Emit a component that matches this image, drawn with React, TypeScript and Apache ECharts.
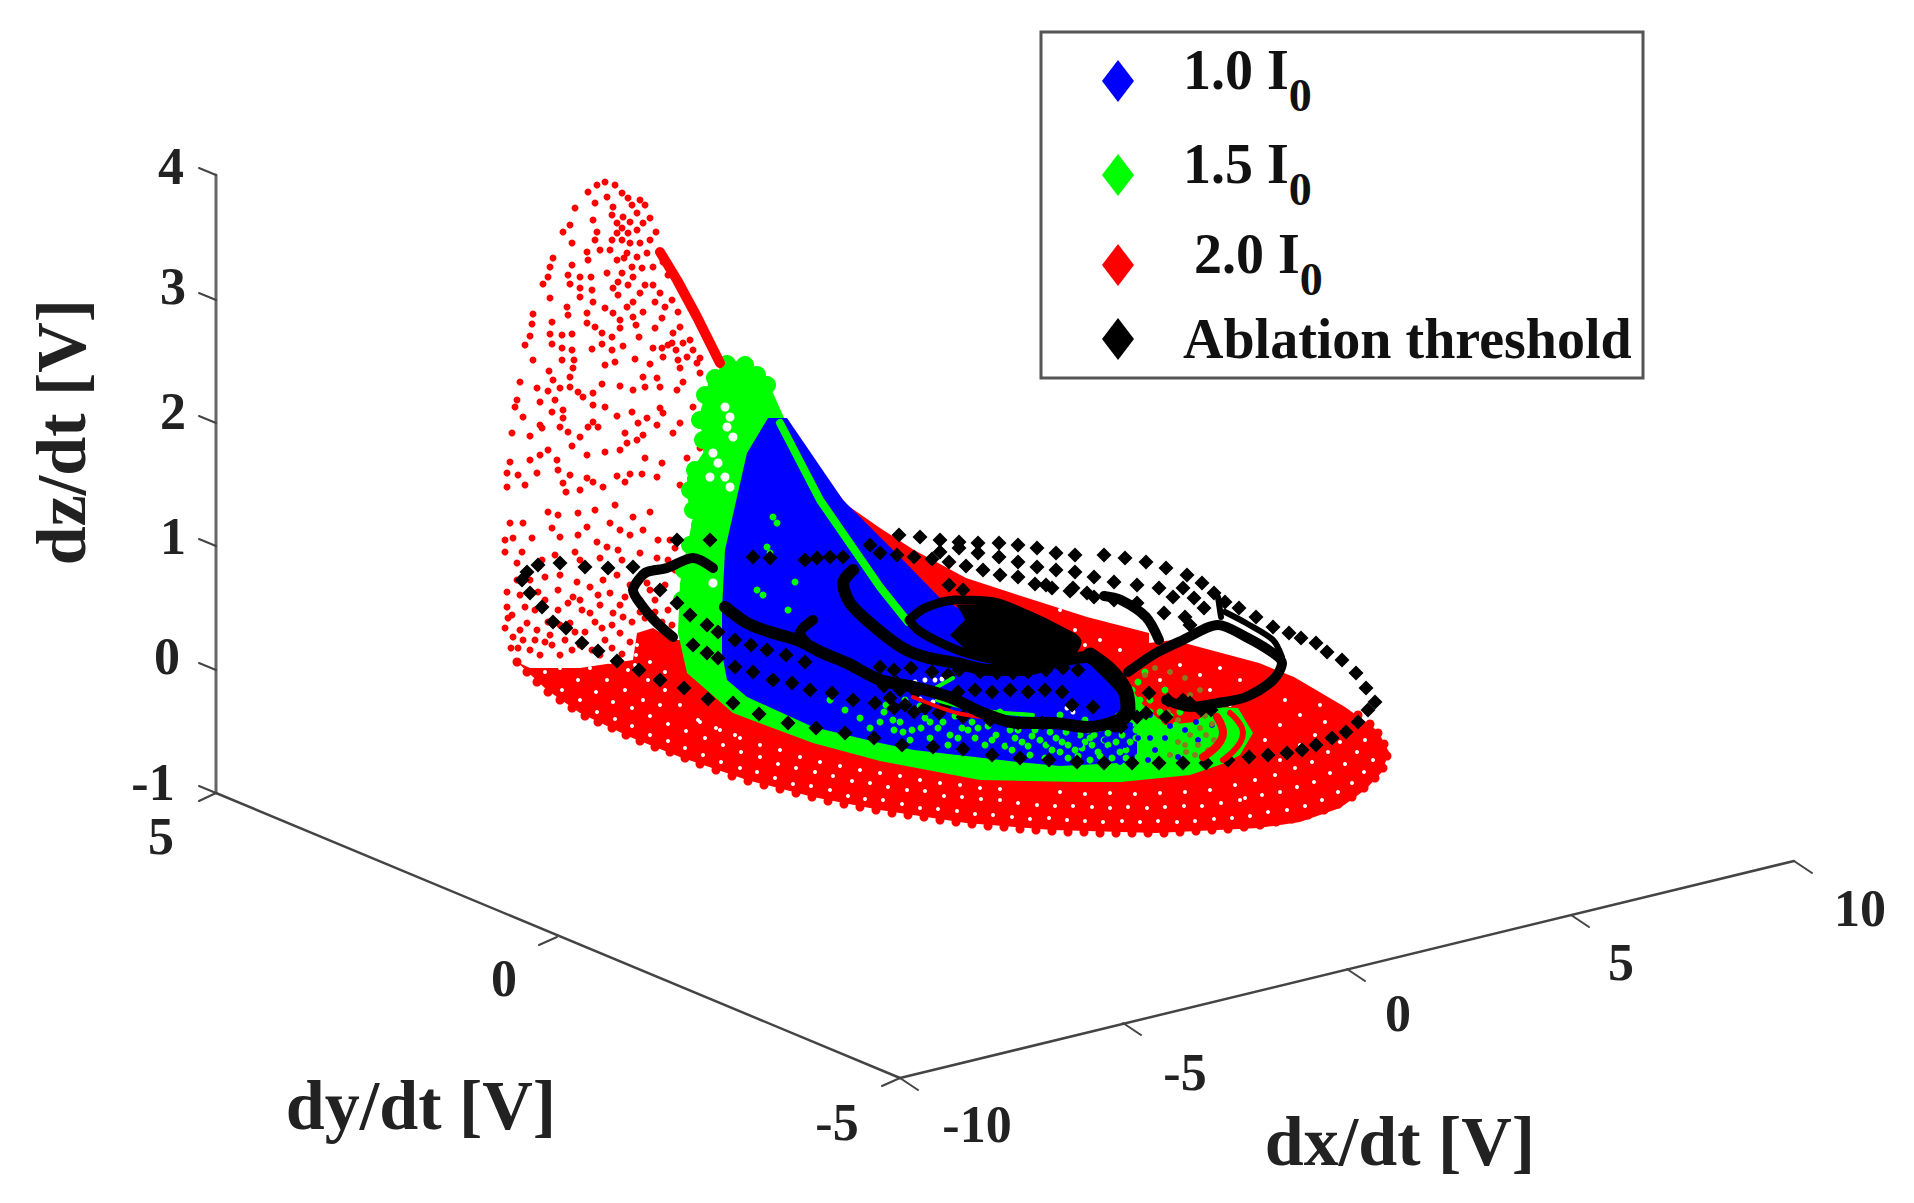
import React, { useEffect, useRef } from "react";
import * as echarts from "echarts";

const FONT = "Liberation Serif";
const NAMES = ["1.0 I0", "1.5 I0", "2.0 I0", "Ablation threshold"];
const COLORS = { blue: "#0000ff", green: "#00ff00", red: "#ff0000", black: "#000000" };

// All marks are given in the chart's projected viewing plane (the 3D view as seen on paper).
const axisZ = [[216, 175], [216, 793]];
const axisY = [[216, 793], [900, 1078]];
const axisX = [[900, 1078], [1794, 861]];
const ticks = [
  [[216, 175], [199, 168]], [[216, 300], [199, 293]], [[216, 423], [199, 416]],
  [[216, 546], [199, 539]], [[216, 670], [199, 663]], [[216, 793], [199, 786]],
  [[216, 793], [199, 801]], [[557, 937], [539, 945]], [[900, 1078], [882, 1086]],
  [[900, 1078], [918, 1090]], [[1123, 1023], [1141, 1035]], [[1347, 969], [1365, 981]],
  [[1571, 915], [1589, 927]], [[1794, 861], [1812, 873]],
];
const tickLabels = [
  [171, 166, "4"], [173, 286, "3"], [173, 411, "2"], [173, 536, "1"], [167, 656, "0"], [153, 782, "-1"],
  [161, 836, "5"], [504, 978, "0"], [837, 1122, "-5"],
  [977, 1124, "-10"], [1185, 1072, "-5"], [1398, 1013, "0"], [1621, 962, "5"], [1860, 908, "10"],
];
const axisTitles = [
  [61, 432, "dz/dt [V]", 90], [421, 1105, "dy/dt [V]", 0], [1400, 1141, "dx/dt [V]", 0],
];

const redBody = [[517,662],[547,690],[580,713],[630,737],[680,757],[747,780],[813,797],[880,810],[966,823],[1052,830],[1156,833],[1259,828],[1300,822],[1340,808],[1365,790],[1382,772],[1389,752],[1380,735],[1373,727],[1345,707],[1294,677],[1259,663],[1173,640],[1149,643],[1149,633],[1087,617],[1018,595],[966,578],[914,550],[880,528],[847,505],[820,470],[723,364],[710,500],[700,640],[673,640],[653,628],[637,633],[633,660],[580,668],[547,668],[530,668]];
const redEdge = [[517,662],[527,672],[537,682],[548,692],[560,700],[572,708],[585,716],[598,722],[612,728],[626,735],[640,741],[655,747],[670,752],[685,758],[700,764],[716,770],[732,776],[748,781],[764,785],[780,789],[796,793],[812,797],[828,801],[844,804],[860,807],[876,810],[892,813],[908,815],[924,817],[940,820],[956,822],[972,824],[988,826],[1004,827],[1020,829],[1036,830],[1052,831],[1068,832],[1084,832],[1100,833],[1116,833],[1132,833],[1148,833],[1164,833],[1180,832],[1196,831],[1212,830],[1228,829],[1244,827],[1260,825],[1276,822],[1292,819],[1308,815],[1324,810],[1338,804],[1352,797],[1364,788],[1375,778],[1383,768],[1387,756],[1384,744],[1378,733],[1370,724],[1358,715]];
const redRidge = [[660,252],[677,280],[697,317],[720,363]];
const redPoints = [[588,192],[597,185],[605,182],[615,185],[622,193],[628,198],[607,197],[595,203],[575,208],[570,225],[563,232],[593,220],[597,232],[595,240],[572,243],[600,250],[587,252],[588,260],[553,258],[550,267],[572,265],[548,277],[543,284],[568,275],[570,284],[580,277],[591,277],[580,288],[580,297],[550,298],[592,290],[593,302],[607,273],[613,288],[618,295],
[613,207],[617,223],[623,217],[617,233],[622,240],[628,233],[637,213],[643,223],[637,230],[630,243],[640,243],[650,240],[627,253],[617,260],[637,257],[647,253],[632,267],[653,267],[622,273],[633,277],[628,285],[653,285],[660,293],[640,293],[633,302],[627,307],[655,302],[665,307],[643,312],[633,317],[662,318],[655,328],[680,327],[673,333],[683,343],[693,350],[687,357],[645,205],[650,218],[656,232],[663,262],[668,275],[672,300],[678,312],[612,215],[612,240],[622,228],[630,222],[640,200],[632,205],[624,258],[610,250],[642,268],[645,285],[618,282],[636,325],[668,345],[676,350],[700,358],[690,340],
[567,307],[568,315],[587,313],[605,308],[613,313],[533,314],[532,324],[552,322],[587,323],[595,327],[620,320],[620,328],[530,336],[525,345],[550,334],[562,335],[572,334],[552,344],[562,348],[572,350],[602,333],[612,337],[639,337],[602,344],[592,349],[612,350],[623,346],[653,348],[662,348],[672,343],[533,360],[562,360],[574,360],[615,362],[635,359],[650,364],[663,357],[678,360],[573,368],[605,365],[680,368],[697,363],[549,371],[700,373],[553,380],[570,377],[643,377],[657,378],[520,382],[602,384],[620,386],[537,388],[548,391],[560,388],[570,387],[578,392],[633,390],[645,387],[660,387],[677,390],[683,382],[517,400],[540,402],[555,400],[583,397],[593,393],[515,407],[552,412],[563,410],[593,405],[605,407],[693,407],[660,408],[523,417],[563,418],[617,416],[632,412],[647,418],[663,413],[540,425],[593,422],[588,427],[638,423],[657,425],[680,423],[512,433],[560,427],[568,432],[598,427],[542,428],[530,436],[580,437],[625,433],[643,435],[673,433],[627,443],[572,446],[637,440],[548,450],[587,455],[605,452],[620,450],[540,455],[530,460],[645,458],[700,448],[510,462],[557,460],[662,463],[687,458],[537,473],[558,470],[507,473],[518,475],[587,478],[617,476],[630,474],[642,474],[657,477],[570,475],[563,483],[593,482],[525,485],[507,487],[603,487],[580,490],[625,482],[680,485],[566,492],
[510,523],[523,523],[505,540],[505,552],[513,538],[532,538],[522,552],[548,512],[558,515],[578,513],[595,510],[615,505],[633,517],[650,512],[552,528],[560,537],[578,535],[587,527],[610,523],[620,530],[643,530],[597,542],[630,535],[658,540],[670,540],[575,552],[607,547],[618,550],[640,553],[555,555],[542,560],[517,563],[580,560],[600,558],[622,560],[657,558],[560,575],[545,577],[577,582],[590,587],[603,580],[617,575],[647,583],[507,592],[525,607],[507,607],[558,590],[573,597],[610,593],[625,597],[508,618],[527,623],[513,637],[537,630],[558,610],[590,613],[613,613],[623,617],[570,623],[602,628],[620,633],[511,648],[523,640],[545,642],[565,640],[585,632],[605,640],[520,595],[535,610],[548,622],[640,612],[655,600],[668,610],[665,585],[675,570],
[505,628],[518,648],[530,650],[540,655],[552,645],[560,655],[572,650],[580,645],[592,650],[600,655],[612,648],[622,654],[630,642],[575,632],[595,622],[612,625],[632,622],[645,618],[655,612],[662,622],[672,625],[582,610],[600,605],[568,603],[580,600],[598,595],[545,600],[530,580],[538,592],[517,580],[512,615],[520,630],[535,640],[550,635],[560,625],[640,600],[650,590],[630,585],[620,605],[650,570],[668,560],[675,548]];
const redGaps = [[545,672],[562,690],[580,700],[597,712],[615,719],[632,726],[650,735],[668,741],[685,748],[703,755],[721,762],[740,768],[757,772],[775,778],[793,784],[811,786],[830,790],[848,796],[865,799],[883,800],[902,804],[920,808],[938,809],[957,811],[975,814],[993,815],[1012,817],[1030,819],[1049,818],[1067,820],[1085,821],[1103,822],[1122,821],[1140,822],[1158,821],[1177,822],[1195,821],[1214,819],[1232,818],[1250,816],[1268,812],[1287,810],[1305,806],[1322,800],[1338,792],[1352,783],[1364,772],[1373,760],
[560,668],[578,680],[596,692],[613,702],[632,708],[650,716],[668,724],[686,731],[705,738],[723,745],[741,752],[760,757],[778,764],[796,768],[815,772],[833,776],[852,781],[870,783],[888,787],[907,790],[925,791],[944,796],[962,797],[981,799],[1000,800],[1245,798],[1262,795],[1280,792],[1297,787],[1314,782],[1330,773],[1345,764],[1357,752],[1365,740],
[1018,803],[1037,805],[1055,806],[1073,806],[1092,807],[1110,808],[1128,807],[1147,808],[1165,807],[1184,806],[1202,806],[1221,803],[1240,800],
[1060,792],[1085,794],[1110,793],[1135,794],[1160,793],[1185,792],[1210,790],[1235,785],[1255,780],[1275,775],[1295,768],[1312,762],[1328,752],[1340,742],[1348,730],
[700,722],[720,730],[740,738],[760,745],[780,750],[800,757],[820,762],[840,766],[860,770],[880,773],[900,776],[920,780],[940,783],[960,785],[980,788],[1000,789],
[1280,760],[1300,745],[1315,735],[1325,722],[1300,715],[1280,725],[1265,740],[1250,755],[1285,700],[1320,705],[1180,665],[1200,675],[1220,668],[1210,690],[1240,680],[1190,700],[1160,680],[1230,705],[1050,625],[1075,630],[1100,640],[1120,650],[1085,645],[1060,610],
[590,668],[607,680],[625,690],[643,700],[660,705],[610,662],[628,670],[648,680],[665,690],[680,705],[698,720],[716,728],[735,735],[637,645],[636,655],[635,665],[650,662],[665,672]];

const greenBody = [[722,367],[727,360],[743,362],[757,373],[773,393],[785,420],[827,500],[900,597],[909,622],[1000,655],[1100,660],[1127,683],[1143,705],[1165,725],[1195,722],[1215,707],[1238,708],[1253,733],[1240,755],[1225,763],[1190,775],[1121,782],[1080,782],[980,780],[880,761],[813,743],[733,713],[687,673],[678,633],[680,583],[693,517],[687,497],[687,477],[707,447],[698,420],[710,377]];
const greenStrip = [[780,423],[820,500],[880,587],[908,622]];
const greenLumps = [[727,364],[745,365],[757,375],[767,385],[715,378],[705,395],[700,420],[703,440],[712,450],[695,470],[690,490],[693,510],[700,525],[690,545],[684,570],[682,600]];
const greenHoles = [[725,407],[730,417],[727,427],[733,437],[713,453],[718,463],[725,477],[730,487],[710,477],[713,583]];
const greenSpecks = [[773,517],[777,523],[767,547],[770,553],[795,582],[757,590],[763,595],[788,610],[800,640],[830,700],[845,710],[860,718],[880,722],
[886,705],[900,722],[912,730],[925,718],[938,728],[950,735],[962,728],[975,738],[985,745],[996,735],[1005,746],[1015,738],[1028,746],[1040,740],[1052,750],[1062,742],[1075,750],[1085,742],[1098,752],[1108,745],[1120,752],[1130,742],[1142,750],[1152,742],[1165,748],[1175,738],[1185,745],[1195,735],[1205,742],
[905,700],[920,706],[940,712],[955,716],[972,722],[988,726],[1002,722],[1018,730],[1035,730],[1050,732],[1066,732],[1080,735],[1094,735],[1108,733],[1122,735],[1136,730],[1150,728],[1163,733],[1176,725],[1190,728],[1140,715],[1150,700],[1128,705],[1132,690],[1138,682],[1145,672],[1165,690],[1180,712],[1160,712],
[1045,758],[1030,755],[1012,750],[948,745],[930,738],[910,740],[894,730],[870,728],[1068,758],[1090,760],[1112,758],[1138,757],[1160,755],[1180,752],[1198,752],[1210,748],[1000,712],[1060,715],[1085,720],[1110,722],
[884,712],[893,720],[903,732],[921,728],[930,722],[943,722],[958,738],[968,730],[978,728],[992,740],[1010,730],[1022,742],[1032,736],[1046,745],[1056,738],[1068,745],[1082,748],[1092,745],[1104,740],[1116,742],[1126,750],[1136,738],[1146,738],[1076,728],[1090,738],[1100,728],[1116,728],[1060,752],[1078,756],[1100,756],[1126,758],[1150,752],[1172,748],[1088,730],[1128,720],[1140,725],[1118,716],[1130,712],[1140,700],[1150,712],[1158,722],[1170,716],[1170,730]];
const greenStreak = [[937,700],[977,710],[1033,715]];
const greenFlick = [[937,687],[953,678]];
const redStreak = [[913,697],[957,713],[993,718],[1043,722]];
const whiteFlecks = [[915,682],[925,680],[935,680],[942,679],[920,699],[933,702],[1067,708],[1073,712]];
const blueBody = [[768,418],[787,418],[843,500],[900,557],[939,597],[965,612],[1000,620],[1052,660],[1087,657],[1121,690],[1121,725],[1137,727],[1137,762],[1060,766],[1018,762],[914,750],[880,743],[813,727],[747,697],[727,680],[722,653],[722,610],[725,550],[737,497],[747,453]];
const blueSpecks = [[1138,738],[1150,738],[1170,726],[1185,730],[1125,745],[1105,740],[1080,745],[1050,742],[1010,744],[1165,738],[1196,722],[1212,725],[1198,740],[1130,725],[1150,715],[1120,762],[1148,760],[1075,735],[1090,728],[1155,750],[1178,757],[1110,750]];
const redArcOuter = [[1230,713],[1243,733],[1223,760]];
const redArcInner = [[1217,717],[1223,733],[1203,757]];
const olivePoints = [[1196,708],[1205,716],[1212,724],[1206,735],[1198,745],[1186,752],[1178,742],[1170,755],[1190,735],[1200,728],[1214,740],[1178,720],[1168,712],[1190,695],[1145,675],[1155,668],[1170,672],[1185,678],[1200,690],[1185,745],[1195,755],[1208,750]];

const blackDots = [[522,580],[530,593],[542,607],[553,622],[566,628],[582,643],[598,651],[617,661],[639,670],[660,680],[684,688],[708,699],[733,703],[759,714],[788,723],[816,728],[845,733],[874,738],[902,745],[933,747],[963,749],[992,755],[1020,758],[1049,760],[1077,762],[1104,763],[1132,763],[1159,763],[1183,763],[1206,763],[1228,760],[1249,757],[1268,755],[1287,753],[1302,750],[1316,745],[1332,738],[1346,732],[1358,722],[1368,710],[1375,702],[1366,688],[1356,673],[1342,660],[1327,652],[1316,643],[1301,638],[1289,633],[1273,627],[1256,617],[1239,608],[1225,602],[1214,593],[1202,583],[1187,575],[1166,568],[1146,562],[1125,558],[1104,555],[1075,555],[1056,553],[1037,548],[1018,545],[999,543],[978,543],[959,542],[940,540],[920,537],[899,535],[870,545],[843,557],[830,557],[817,558],[805,560],[770,558],[753,557],[633,567],[608,568],[585,567],[560,563],[538,565],[527,572],
[660,590],[677,603],[690,615],[707,625],[718,632],[735,640],[751,645],[767,650],[786,655],[805,662],[735,667],[753,672],[773,680],[792,683],[810,690],[832,693],[853,700],[875,703],[894,708],[914,712],[939,713],[963,717],[990,720],[1018,723],[1042,723],[693,645],[707,653],[718,658],[677,540],[710,540],
[940,552],[959,548],[978,553],[999,557],[1018,562],[1037,567],[1056,570],[1075,572],[1094,577],[1114,582],[1137,585],[1159,588],[1183,588],[1164,613],[1185,617],[1204,608],[1190,625],[1173,597],[1194,598],[1018,577],[1046,585],[1073,588],[1137,603],[1114,600],[1094,597],[949,585],[963,590],
[880,553],[897,555],[914,557],[932,559],[949,562],[966,566],[983,570],[1000,575],[1035,584],[1052,588],[1070,591],[1087,593],
[980,672],[997,673],[1013,673],[1028,672],[1046,670],[932,672],[911,668],[894,670],[880,667],[959,670],[897,683],[948,675],[1063,668],[1078,670],
[884,686],[900,690],[916,692],[958,692],[975,690],[992,692],[1010,690],[1028,692],[1045,690],[1062,692],[890,698],[905,705],[925,708],[945,706],
[1149,693],[1168,700],[1190,703],[1201,710],[1166,717],[1146,713],[1121,727],[1137,717],[1072,705],[1093,707],[1183,700],[1211,710]];
const blackTrace1 = [[713,568],[693,558],[667,568],[647,572],[640,578],[633,590],[643,607],[657,623],[673,637]];
const blackTrace2 = [[725,607],[747,623],[770,632],[797,640],[823,653],[847,663],[880,680],[914,687],[949,697],[983,713],[1018,723],[1052,723],[1087,727],[1118,720],[1128,707],[1125,693],[1104,670],[1087,657],[1052,663],[1025,670],[990,670],[956,663],[925,657],[901,647],[870,623],[850,603],[843,583],[853,570]];
const blackTrace3 = [[807,643],[800,633],[813,620]];
const blackTrace4 = [[1104,596],[1121,600],[1146,617],[1159,640]];
const blackTrace5 = [[1128,672],[1156,653],[1183,640],[1218,625],[1246,637],[1273,653],[1282,663],[1273,680],[1246,697],[1218,703],[1190,707],[1166,700]];
const blackTrace6 = [[1218,597],[1221,617]];
const blackTrace7 = [[1225,612],[1246,623],[1273,640],[1282,657]];
const blackTrace8 = [[1090,655],[1110,670],[1125,690],[1128,710],[1115,725]];
const blackRing = [[909,620],[925,608],[956,600],[994,602],[1028,615],[1059,630],[1077,642],[1066,657],[1042,660],[1001,660],[966,653],[939,642],[918,630],[909,620]];
const blackCore = [[956,605],[994,604],[1028,617],[1059,632],[1075,642],[1066,655],[1042,658],[1001,658],[966,650],[950,635],[965,620],[960,610]];

const polygon = (name: string, pts: number[][], fill: string) => ({
  type: "custom", name, data: pts, silent: true, itemStyle: { color: fill },
  renderItem: (p: any, api: any) =>
    p.dataIndex === 0 ? { type: "polygon", shape: { points: pts.map((q) => api.coord(q)) }, style: { fill } } : null,
});
const line = (name: string, pts: number[][], color: string, width: number, smooth = 0) => ({
  type: "line", name, data: pts, symbol: "none", smooth, silent: true, itemStyle: { color },
  lineStyle: { color, width, cap: "round", join: "round" },
});
const dots = (name: string, pts: number[][], color: string, size: number, symbol = "circle") => ({
  type: "scatter", name, data: pts, symbol, symbolSize: size, silent: true, itemStyle: { color, opacity: 1 },
});
const TXT = { fontFamily: FONT, fontWeight: "bold", fontSize: 56, color: "#111" };
const legendAt = (name: string, top: number, color: string) => ({
  data: [{ name, icon: "diamond", itemStyle: { color } }],
  left: 1102, top, orient: "vertical", selectedMode: false, itemWidth: 32, itemHeight: 42, itemGap: 0, padding: 0,
  formatter: (n: string) => {
    if (n.startsWith("2.0")) return `{w|${n.slice(0, -1)}}{s|0}`;
    return n.endsWith("I0") ? `{m|${n.slice(0, -1)}}{s|0}` : `{a|${n}}`;
  },
  textStyle: {
    ...TXT,
    rich: {
      m: { ...TXT, padding: [0, 0, 22, 44] },
      w: { ...TXT, padding: [0, 0, 22, 55] },
      a: { ...TXT, padding: [0, 0, 0, 44] },
      s: { ...TXT, fontSize: 46, padding: [28, 0, 0, 0] },
    },
  },
});

export default function App() {
  const ref = useRef<HTMLDivElement>(null);
  useEffect(() => {
    const chart = echarts.init(ref.current!, undefined, { renderer: "svg" });
    const frame = [axisZ, axisY, axisX].map((a, i) => line("axis" + i, a, i === 0 ? "#666" : "#444", i === 0 ? 3 : 2.5));
    const tickSeries = ticks.map((t, i) => line("tick" + i, t, "#444", 2));
    chart.setOption({
      animation: false,
      backgroundColor: "#fff",
      grid: { left: 0, right: 0, top: 0, bottom: 0 },
      xAxis: { type: "value", min: 0, max: 1914, show: false },
      yAxis: { type: "value", min: 0, max: 1203, inverse: true, show: false },
      legend: [
        legendAt(NAMES[0], 42, COLORS.blue),
        legendAt(NAMES[1], 136, COLORS.green),
        legendAt(NAMES[2], 226, COLORS.red),
        legendAt(NAMES[3], 311, COLORS.black),
      ],
      graphic: [{ type: "rect", z: 0, shape: { x: 1041, y: 32, width: 602, height: 346 }, style: { fill: "#fff", stroke: "#555", lineWidth: 3 } }],
      series: [
        ...frame,
        ...tickSeries,
        polygon(NAMES[2], redBody, COLORS.red),
        dots(NAMES[2], redEdge, COLORS.red, 9),
        dots("redGaps", redGaps, "#fff", 4),
        dots(NAMES[2], redPoints, COLORS.red, 7),
        line(NAMES[2], redRidge, COLORS.red, 10),
        polygon(NAMES[1], greenBody, COLORS.green),
        dots(NAMES[1], greenLumps, COLORS.green, 18),
        dots("greenHoles", greenHoles, "#fff", 9),
        polygon(NAMES[0], blueBody, COLORS.blue),
        line(NAMES[1], greenStrip, COLORS.green, 8),
        dots(NAMES[1], greenSpecks, COLORS.green, 7),
        dots(NAMES[0], blueSpecks, COLORS.blue, 6),
        line(NAMES[2], redArcOuter, COLORS.red, 6, 0.5),
        line(NAMES[2], redArcInner, COLORS.red, 8, 0.5),
        dots("mix", olivePoints, "#8a7a20", 6),
        line(NAMES[2], redStreak, COLORS.red, 4, 0.3),
        line(NAMES[1], greenStreak, COLORS.green, 4, 0.3),
        line(NAMES[1], greenFlick, COLORS.green, 4),
        dots("whiteFlecks", whiteFlecks, "#fff", 5),
        polygon(NAMES[3], blackCore, COLORS.black),
        line(NAMES[3], blackRing, COLORS.black, 9, 0.3),
        line(NAMES[3], blackTrace1, COLORS.black, 10, 0.3),
        line(NAMES[3], blackTrace2, COLORS.black, 12, 0.3),
        line(NAMES[3], blackTrace3, COLORS.black, 10, 0.3),
        line(NAMES[3], blackTrace4, COLORS.black, 10, 0.3),
        line(NAMES[3], blackTrace5, COLORS.black, 10, 0.3),
        line(NAMES[3], blackTrace6, COLORS.black, 6),
        line(NAMES[3], blackTrace7, COLORS.black, 6, 0.3),
        line(NAMES[3], blackTrace8, COLORS.black, 15, 0.3),
        dots(NAMES[3], blackDots, COLORS.black, 15, "diamond"),
        {
          type: "scatter", name: "ticks", data: tickLabels, symbolSize: 1, silent: true, itemStyle: { color: "transparent", opacity: 1 },
          label: { show: true, position: "inside", formatter: (p: any) => p.data[2], fontFamily: FONT, fontWeight: "bold", fontSize: 52, color: "#222" },
        },
        ...axisTitles.map((t) => ({
          type: "scatter", name: t[2], data: [t], symbolSize: 1, silent: true, itemStyle: { color: "transparent", opacity: 1 },
          label: { show: true, position: "inside", rotate: t[3], formatter: (p: any) => p.data[2], fontFamily: FONT, fontWeight: "bold", fontSize: 70, color: "#222" },
        })),
      ],
    });
    return () => chart.dispose();
  }, []);
  return <div ref={ref} style={{ position: "absolute", left: 0, top: 0, width: 1914, height: 1203 }} />;
}
